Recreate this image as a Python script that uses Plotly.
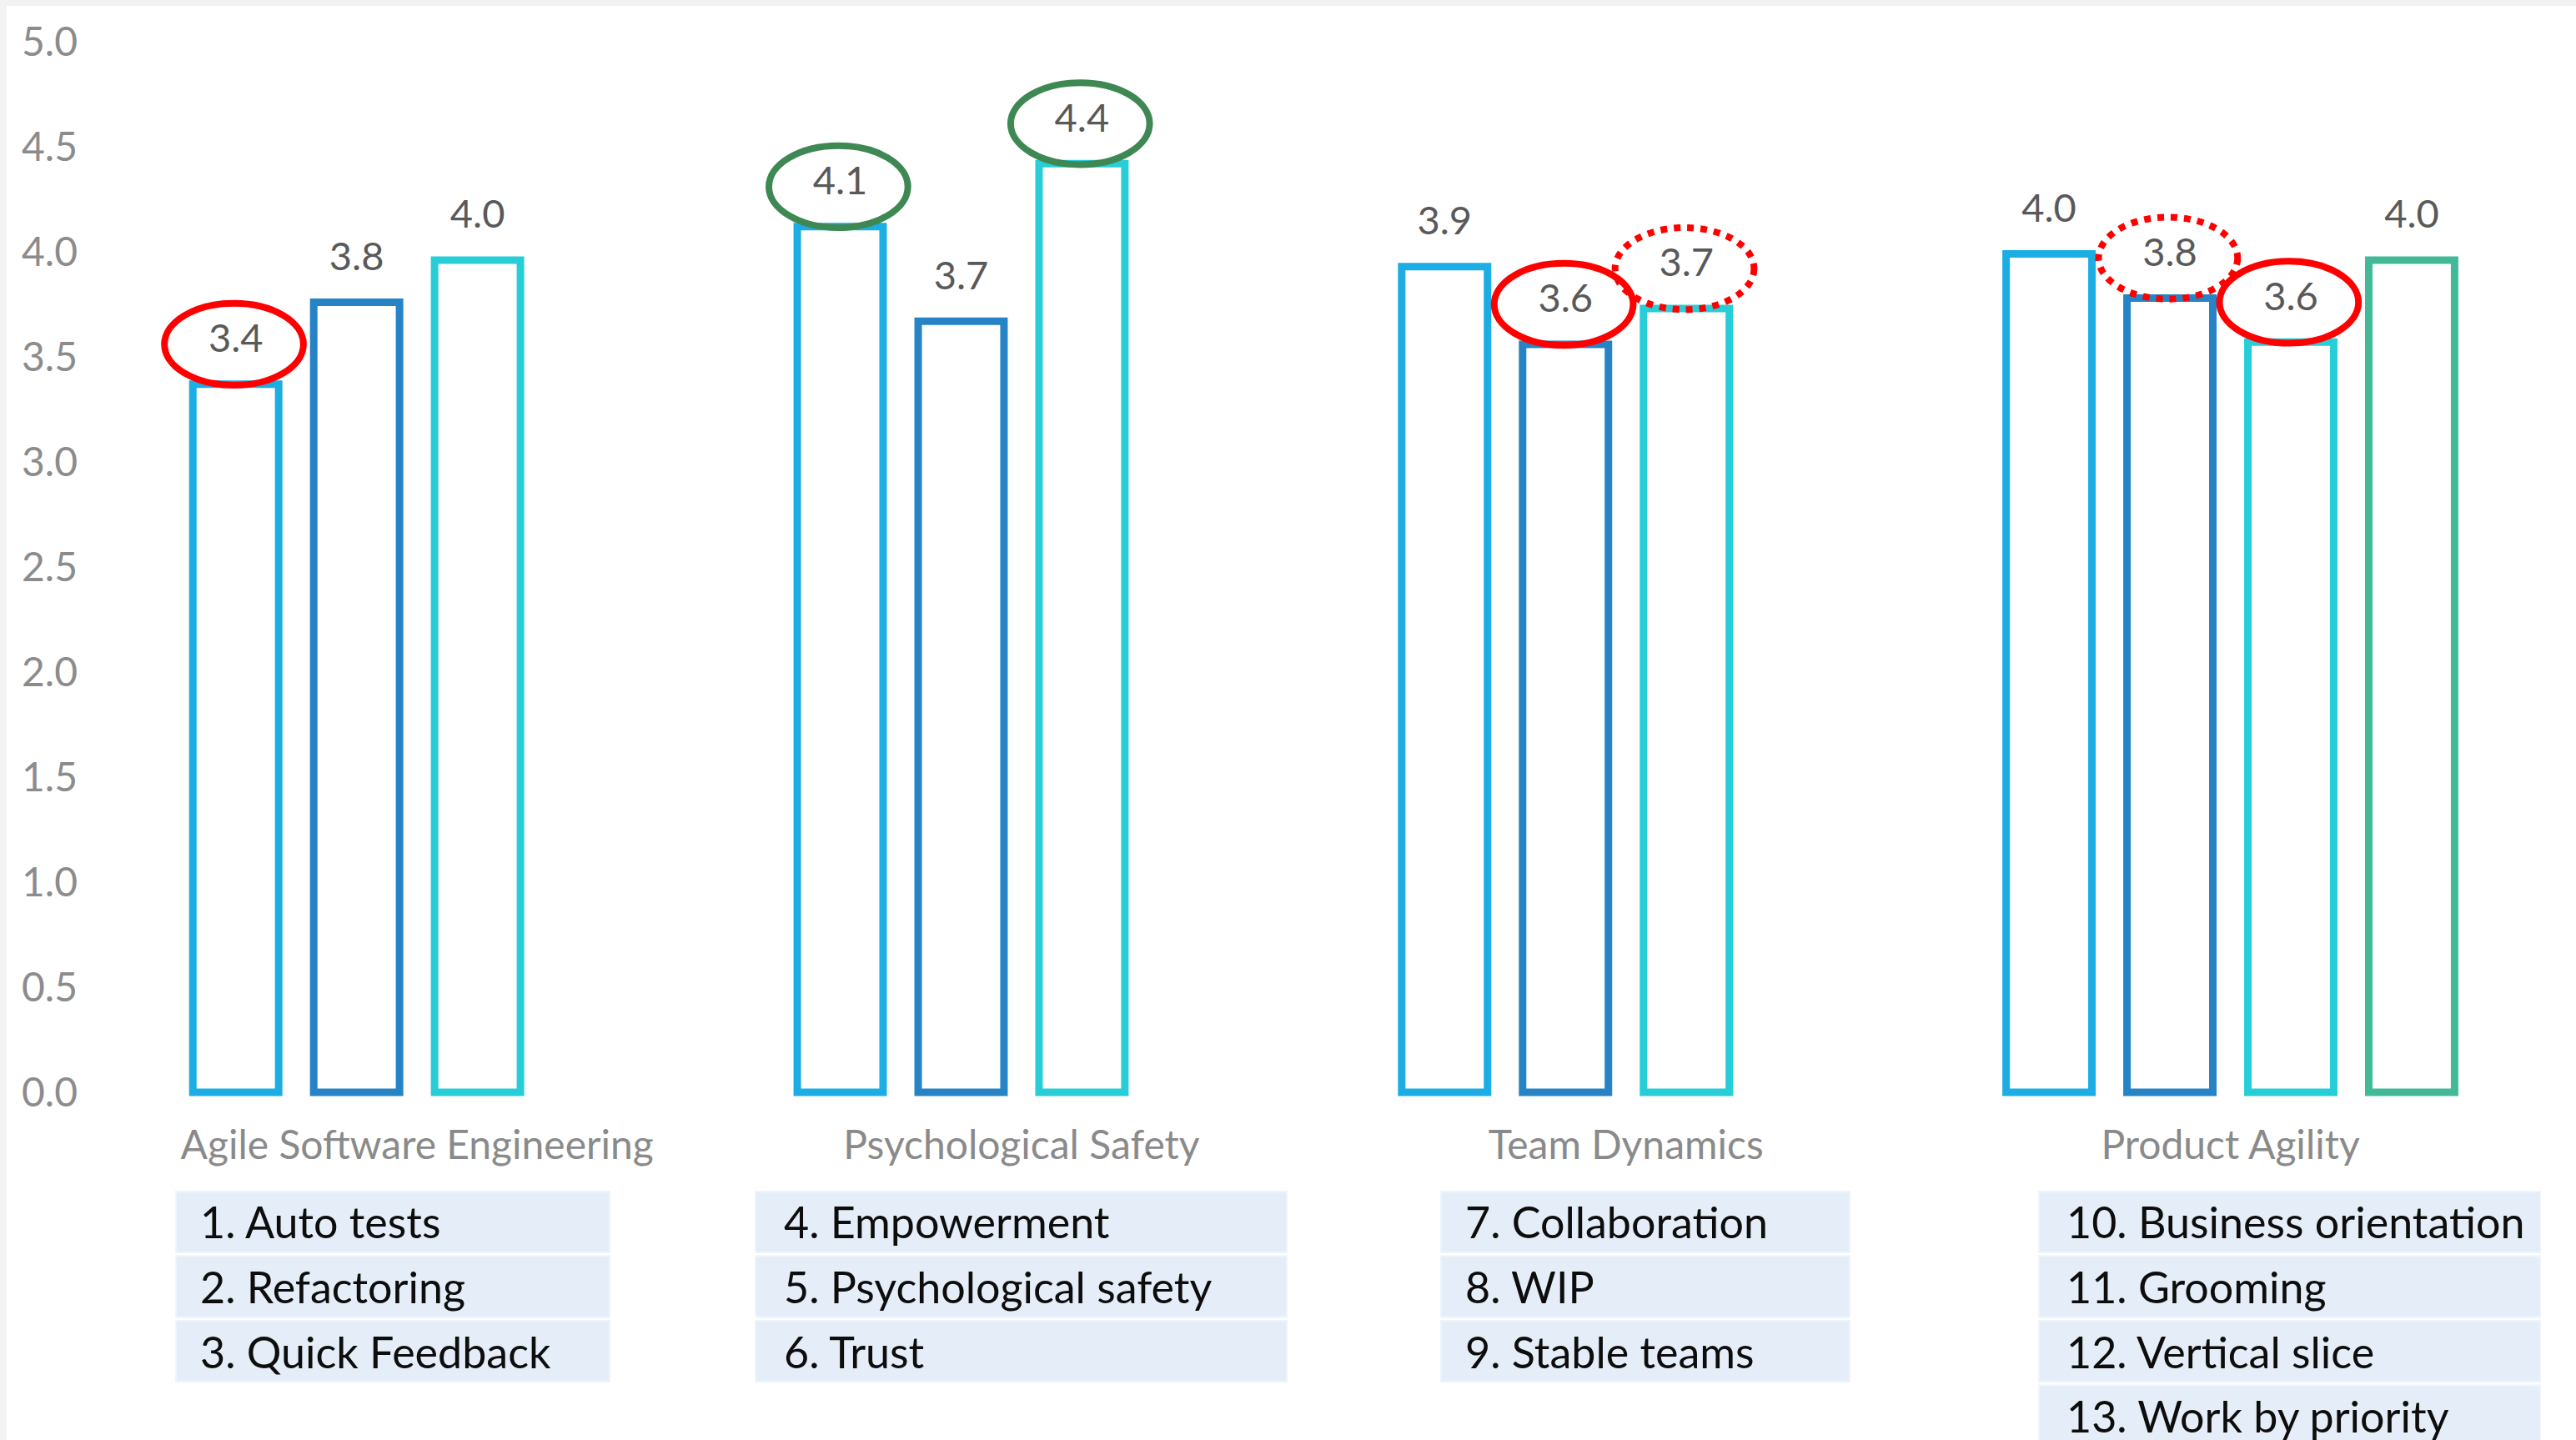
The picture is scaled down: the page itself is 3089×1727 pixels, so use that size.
import plotly.graph_objects as go

# ---------------- data ----------------
slots = [0, 1, 2, 5, 6, 7, 10, 11, 12, 15, 16, 17, 18]
values = [3.37, 3.76, 3.96, 4.12, 3.67, 4.42, 3.93, 3.56, 3.73, 3.99, 3.78, 3.57, 3.96]
bar_colors = ["#1CADE4", "#2683C6", "#27CED7",
              "#1CADE4", "#2683C6", "#27CED7",
              "#1CADE4", "#2683C6", "#27CED7",
              "#1CADE4", "#2683C6", "#27CED7", "#42BA97"]

categories = ["Agile Software Engineering", "Psychological Safety", "Team Dynamics", "Product Agility"]
category_pos = [1.5, 6.5, 11.5, 16.5]

group_items = [
    ["1. Auto tests", "2. Refactoring", "3. Quick Feedback"],
    ["4. Empowerment", "5. Psychological safety", "6. Trust"],
    ["7. Collaboration", "8. WIP", "9. Stable teams"],
    ["10. Business orientation", "11. Grooming", "12. Vertical slice", "13. Work by priority"],
]

y_ticks = [0.0, 0.5, 1.0, 1.5, 2.0, 2.5, 3.0, 3.5, 4.0, 4.5, 5.0]

# highlighted bars (index into values) and ellipse style
highlight_red = [0, 7, 11]
highlight_red_dotted = [8, 10]
highlight_green = [3, 5]

# ---------------- layout geometry ----------------
W, H = 3089, 1727
ML, MT, MB = 108, 0, 402
PLOT_W = W - ML
PLOT_H = H - MT - MB


def xp(px):
    return (px - ML) / PLOT_W


def yp(py):
    return (MT + PLOT_H - py) / PLOT_H


FONT = "Lato"

fig = go.Figure()

fig.add_trace(go.Bar(
    x=slots, y=values, width=0.71,
    marker=dict(color="white", line=dict(color=bar_colors, width=9)),
    hoverinfo="skip", showlegend=False,
))

fig.add_trace(go.Scatter(
    x=slots, y=[v + 0.2 for v in values],
    text=[f"{v:.1f}" for v in values],
    mode="text", textposition="middle center",
    textfont=dict(family=FONT, size=47, color="#595959"),
    hoverinfo="skip", showlegend=False, cliponaxis=False,
))

shapes = []
# gray frame strips (top and left)
shapes.append(dict(type="rect", xref="paper", yref="paper", x0=xp(0), x1=xp(W), y0=yp(0), y1=yp(7),
                   fillcolor="#F2F2F2", line=dict(width=0), layer="below"))
shapes.append(dict(type="rect", xref="paper", yref="paper", x0=xp(0), x1=xp(8), y0=yp(0), y1=yp(H),
                   fillcolor="#F2F2F2", line=dict(width=0), layer="below"))


def ellipse(i, color, dash):
    s, v = slots[i], values[i]
    return dict(type="circle", xref="x", yref="y",
                x0=s - 0.59, x1=s + 0.56, y0=v - 0.005, y1=v + 0.385,
                line=dict(color=color, width=8, dash=dash), layer="above")


for i in highlight_red:
    shapes.append(ellipse(i, "#FF0000", "solid"))
for i in highlight_red_dotted:
    shapes.append(ellipse(i, "#FF0000", "dot"))
for i in highlight_green:
    shapes.append(ellipse(i, "#3E8853", "solid"))

# list boxes below the categories
box_left = [211, 906, 1728, 2445]
box_right = [731, 1543, 2218, 3046]
text_left = [238, 938, 1755, 2476]
row_top0, row_pitch, row_h = 1429, 77.5, 73

annotations = []
for g, items in enumerate(group_items):
    for r, txt in enumerate(items):
        top = row_top0 + r * row_pitch
        shapes.append(dict(type="rect", xref="paper", yref="paper",
                           x0=xp(box_left[g]), x1=xp(box_right[g]),
                           y0=yp(top + row_h), y1=yp(top),
                           fillcolor="#E5EEF8", line=dict(color="#EEF4FB", width=2), layer="below"))
        annotations.append(dict(xref="paper", yref="paper", x=xp(text_left[g]), y=yp(top + row_h / 2),
                                xanchor="left", yanchor="middle", showarrow=False, text=txt,
                                font=dict(family=FONT, size=52, color="#0D0D0D")))

fig.update_layout(
    width=W, height=H,
    margin=dict(l=ML, r=0, t=MT, b=MB, pad=0),
    paper_bgcolor="white", plot_bgcolor="rgba(0,0,0,0)",
    shapes=shapes, annotations=annotations,
    showlegend=False, hovermode=False,
    xaxis=dict(range=[-1.2052, 19.3592], showgrid=False, zeroline=False, showline=False,
               ticks="", tickmode="array", tickvals=category_pos, ticktext=categories,
               ticklabelstandoff=16,
               tickfont=dict(family=FONT, size=48, color="#8A8A8A"), fixedrange=True),
    yaxis=dict(range=[-15 / 252, 1310 / 252], showgrid=False, zeroline=False, showline=False,
               ticks="", tickmode="array", tickvals=y_ticks,
               ticktext=[f"{t:.1f}" for t in y_ticks], ticklabelstandoff=14,
               tickfont=dict(family=FONT, size=48, color="#8C8C8C"), fixedrange=True),
)

fig.write_html("out.html")
